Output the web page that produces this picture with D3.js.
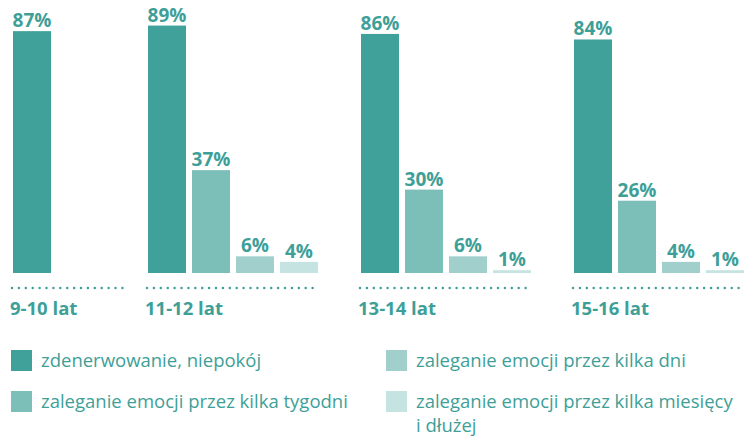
<!DOCTYPE html>
<html>
<head>
<meta charset="utf-8">
<script src="https://cdn.jsdelivr.net/npm/d3@7"></script>
<style>
  body { margin: 0; background: #fff; }
  svg { display: block; font-family: "Open Sans", sans-serif; }
</style>
</head>
<body>
<div id="chart"></div>
<script>
// age groups
const groups = ["9-10 lat", "11-12 lat", "13-14 lat", "15-16 lat"];
// series, in bar order within a group
const seriesNames = [
  "zdenerwowanie, niepokój",
  "zaleganie emocji przez kilka tygodni",
  "zaleganie emocji przez kilka dni",
  "zaleganie emocji przez kilka miesięcy i dłużej"
];
// values per group (null = no bar)
const nerves   = [87, 89, 86, 84];
const weeks    = [null, 37, 30, 26];
const days     = [null, 6, 6, 4];
const months   = [null, 4, 1, 1];
const colors = ["#3fa19a", "#7bbfb8", "#a1d0cc", "#c5e3e1"];

const width = 746, height = 436;
const textColor = "#3e9f98";

const svg = d3.select("#chart").append("svg")
  .attr("width", width)
  .attr("height", height);

// rows of data: one per group, one entry per series
const rows = groups.map((g, i) => ({
  group: g,
  values: [nerves[i], weeks[i], days[i], months[i]]
    .map((v, s) => ({ series: s, value: v }))
    .filter(d => d.value != null)
}));

// group start positions (first group holds just one bar, so it is narrower)
const groupX = d3.scaleOrdinal()
  .domain(groups)
  .range([13, 148, 361, 574]);

// bars inside a group
const inner = d3.scaleBand()
  .domain(d3.range(seriesNames.length))
  .range([0, 4 * 44 - 6])
  .paddingInner(6 / 44);

const baseline = 273;
const y = d3.scaleLinear()
  .domain([0, 100])
  .range([baseline, baseline - 278]);

const g = svg.selectAll("g.group")
  .data(rows)
  .join("g")
  .attr("class", "group")
  .attr("transform", d => "translate(" + groupX(d.group) + ",0)");

g.selectAll("rect")
  .data(d => d.values)
  .join("rect")
  .attr("x", d => inner(d.series))
  .attr("y", d => y(d.value))
  .attr("width", inner.bandwidth())
  .attr("height", d => baseline - y(d.value))
  .attr("fill", d => colors[d.series]);

g.selectAll("text.val")
  .data(d => d.values)
  .join("text")
  .attr("class", "val")
  .attr("x", d => inner(d.series) + inner.bandwidth() / 2)
  .attr("y", d => y(d.value) - 4)
  .attr("text-anchor", "middle")
  .attr("font-size", 19)
  .attr("font-weight", 700)
  .attr("fill", textColor)
  .text(d => d.value + "%");

// dotted baseline under each group
g.append("line")
  .attr("x1", -1)
  .attr("x2", d => d.values.length === 1 ? 114 : inner.range()[1] + 1)
  .attr("y1", 288)
  .attr("y2", 288)
  .attr("stroke", textColor)
  .attr("stroke-width", 2.5)
  .attr("stroke-linecap", "round")
  .attr("stroke-dasharray", "0,6.9");

g.append("text")
  .attr("x", -3)
  .attr("y", 315)
  .attr("font-size", 18.5)
  .attr("font-weight", 700)
  .attr("fill", textColor)
  .text(d => d.group);

// legend: two columns, filled column by column
const legendPos = [[11, 350], [11, 391], [386, 350], [386, 391]];
const legendLines = [
  ["zdenerwowanie, niepokój"],
  ["zaleganie emocji przez kilka tygodni"],
  ["zaleganie emocji przez kilka dni"],
  ["zaleganie emocji przez kilka miesięcy", "i dłużej"]
];

const leg = svg.selectAll("g.legend")
  .data(seriesNames)
  .join("g")
  .attr("class", "legend")
  .attr("transform", (d, i) => "translate(" + legendPos[i][0] + "," + legendPos[i][1] + ")");

leg.append("rect")
  .attr("width", 21)
  .attr("height", 21)
  .attr("fill", (d, i) => colors[i]);

leg.append("text")
  .attr("x", 30)
  .attr("y", 17)
  .attr("font-size", 18.5)
  .attr("fill", textColor)
  .selectAll("tspan")
  .data((d, i) => legendLines[i])
  .join("tspan")
  .attr("x", 30)
  .attr("dy", (d, j) => j === 0 ? 0 : 23.5)
  .text(d => d);
</script>
</body>
</html>
